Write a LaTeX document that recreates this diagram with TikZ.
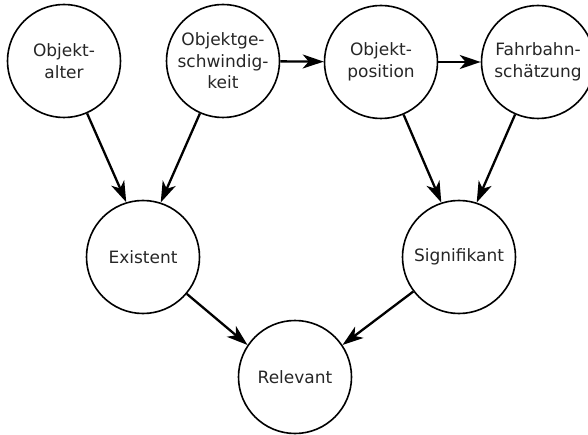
\documentclass[tikz,border=0pt]{standalone}
\usepackage{fontspec}
\setmainfont{DejaVu Sans}
\usetikzlibrary{arrows.meta}

\begin{document}
\begin{tikzpicture}[x=1pt, y=-1pt,
        state/.style={circle, draw, line width=1.6pt, minimum size=113pt, inner sep=0pt,
            align=center, text=black!85, font=\fontsize{17}{21.5}\selectfont},
        link/.style={line width=2.3pt, -{Stealth[length=21pt, width=14pt, inset=6pt]}}]
    \useasboundingbox (0,0) rectangle (588,435);

    % upper row
    \node[state] (alter) at (64,61) {Objekt-\\alter};
    \node[state] (speed) at (223,61) {Objektge-\\schwindig-\\keit};
    \node[state] (pos) at (381,62) {Objekt-\\position};
    \node[state] (lane) at (538,62) {Fahrbahn-\\schätzung};

    % middle row and result
    \node[state] (exist) at (143,257) {Existent};
    \node[state] (sig) at (459,257) {Signifikant};
    \node[state] (rel) at (295,377) {Relevant};

    % draw edges
    \draw[link] (speed) -- (pos);
    \draw[link] (pos) -- (lane);
    \draw[link] (alter) -- (exist.107);
    \draw[link] (speed) -- (exist.72);
    \draw[link] (pos) -- (sig.108);
    \draw[link] (lane) -- (sig.72);
    \draw[link] (exist) -- (rel.146);
    \draw[link] (sig) -- (rel.34);
\end{tikzpicture}
\end{document}
